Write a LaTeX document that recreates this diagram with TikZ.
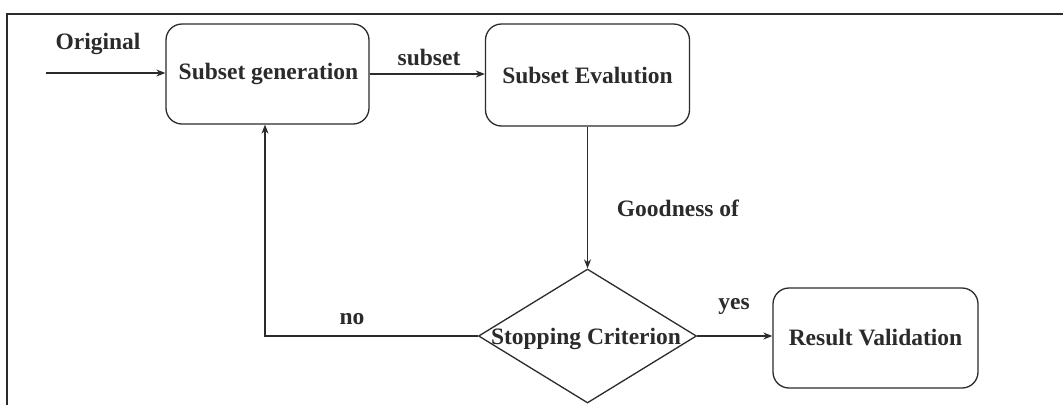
\documentclass[tikz,border=0pt]{standalone}
\usepackage{fontspec}
\setmainfont{Liberation Serif}
\usetikzlibrary{shapes.geometric,arrows.meta}
\definecolor{ink}{HTML}{2B2B2B}
\begin{document}
\begin{tikzpicture}[x=1pt,y=-1pt,
  line width=1.3pt, draw=ink,
  txt/.style={font=\fontsize{23.5}{26}\selectfont\bfseries, text=ink, inner sep=0pt},
  procbox/.style={draw=ink, rounded corners=16pt, minimum width=203pt, minimum height=100pt, inner sep=0pt},
  decision/.style={draw=ink, diamond, minimum width=218pt, minimum height=134pt, inner sep=0pt},
  flow/.style={draw=ink, -{Stealth[length=9pt,width=7pt]}}]
\useasboundingbox (0,0) rectangle (1063,405);
\fill[white] (0,0) rectangle (1063,405);
% open frame: top and left edges
\draw[ink] (1063,14) -- (7,14) -- (7,405);

\node[procbox] (gen) at (267.5,74) {};
\node[txt] (gentxt) at (268.5,74) {Subset generation};
\node[procbox, minimum width=204pt, minimum height=102pt] (eval) at (587.5,75) {};
\node[txt] (evaltxt) at (eval.center) {Subset Evalution};
\node[decision] (crit) at (587.5,336) {};
\node[txt] (crittxt) at (586,339) {Stopping Criterion};
\node[procbox, minimum width=205pt] (valid) at (875.5,338) {};
\node[txt] (validtxt) at (valid.center) {Result Validation};

\coordinate (start) at (46,73);
\coordinate (bend) at (265,336);

\draw[flow] (start) -- (gen.west |- start);
\draw[flow] (gen.east |- 0,74) -- (eval.west |- 0,74);
\draw[flow] (eval.south) -- (crit.north);
\draw[flow] (crit.east) -- (valid.west |- crit.east);
\draw[flow] (crit.west) -- (bend) -- (bend |- gen.south);

\node[txt] (lorig) at (98,44) {Original};
\node[txt] (lsub) at (429,57) {subset};
\node[txt] (lgood) at (678,208) {Goodness of};
\node[txt] (lyes) at (734,306) {yes};
\node[txt] (lno) at (352,319) {no};
\end{tikzpicture}
\end{document}
